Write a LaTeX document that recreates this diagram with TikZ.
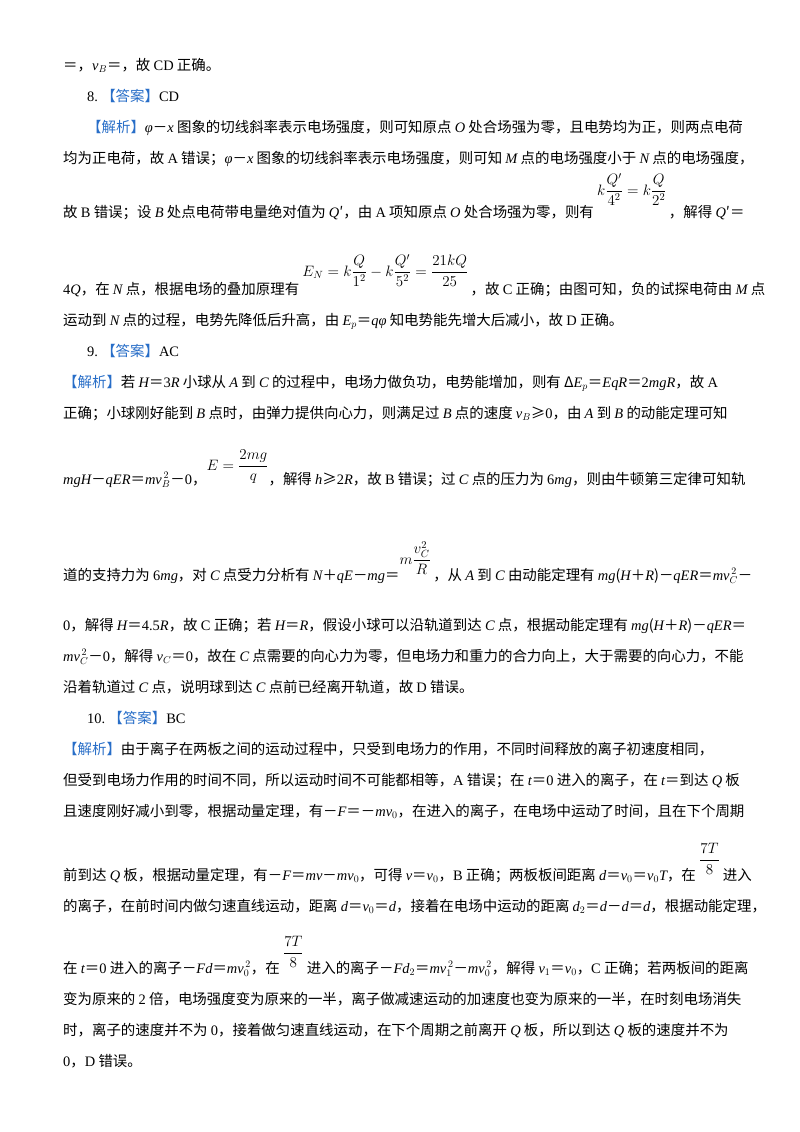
\documentclass[tikz,border=0pt]{standalone}
\usepackage{amsmath}
\usepackage{graphicx}
\usepackage{fontspec}
\setmainfont{Noto Sans CJK SC}
\newfontfamily\lat{Liberation Serif}
\newcommand\I[1]{{\lat\itshape #1}}
\newcommand\R[1]{{\lat #1}}
\newcommand\Fr[2]{\raisebox{#1}{\scalebox{1.05}{$\displaystyle #2$}}}
\definecolor{tagblue}{RGB}{40,110,200}
\newcommand\Tag[1]{{\color{tagblue}【#1】}}
\begin{document}
\begin{tikzpicture}[x=1bp,y=-1bp,
  ln/.style={anchor=base west,inner sep=0pt,font=\fontsize{14.5}{16}\selectfont}]
\useasboundingbox[fill=white] (0,0) rectangle (800,1132);
\node[ln] (l1) at (63,70) {＝，\I{v}$_{\R{B}}$＝，故 \R{CD} 正确。};
\node[ln] (l2) at (87,101) {\R{8.}\ \Tag{答案}\R{CD}};
\node[ln] (l3) at (87,132) {\Tag{解析}\I{φ}－\I{x} 图象的切线斜率表示电场强度，则可知原点 \I{O} 处合场强为零，且电势均为正，则两点电荷};
\node[ln] (l4) at (63,163) {均为正电荷，故 \R{A} 错误；\I{φ}－\I{x} 图象的切线斜率表示电场强度，则可知 \I{M} 点的电场强度小于 \I{N} 点的电场强度，};
\node[ln] (l5) at (63,217) {故 \R{B} 错误；设 \I{B} 处点电荷带电量绝对值为 \I{Q}′，由 \R{A} 项知原点 \I{O} 处合场强为零，则有 \Fr{22bp}{k\frac{Q'}{4^2}=k\frac{Q}{2^2}}\,，解得 \I{Q}′＝};
\node[ln] (l6) at (63,294) {\R{4}\I{Q}，在 \I{N} 点，根据电场的叠加原理有 \Fr{18bp}{E_N=k\frac{Q}{1^2}-k\frac{Q'}{5^2}=\frac{21kQ}{25}}\,，故 \R{C} 正确；由图可知，负的试探电荷由 \I{M} 点};
\node[ln] (l7) at (63,325) {运动到 \I{N} 点的过程，电势先降低后升高，由 \I{E}$_{\R{p}}$＝\I{qφ} 知电势能先增大后减小，故 \R{D} 正确。};
\node[ln] (l8) at (87,356) {\R{9.}\ \Tag{答案}\R{AC}};
\node[ln] (l9) at (63,387) {\Tag{解析}若 \I{H}＝\R{3}\I{R} 小球从 \I{A} 到 \I{C} 的过程中，电场力做负功，电势能增加，则有 Δ\I{E}$_{\R{p}}$＝\I{EqR}＝\R{2}\I{mgR}，故 \R{A}};
\node[ln] (l10) at (63,418) {正确；小球刚好能到 \I{B} 点时，由弹力提供向心力，则满足过 \I{B} 点的速度 \I{v}$_{B}$≥\R{0}，由 \I{A} 到 \I{B} 的动能定理可知};
\node[ln] (l11) at (63,484) {\I{mgH}－\I{qER}＝\I{mv}$_{B}^{\,2}$－\R{0}，\Fr{14bp}{E=\frac{2mg}{q}}，解得 \I{h}≥\R{2}\I{R}，故 \R{B} 错误；过 \I{C} 点的压力为 \R{6}\I{mg}，则由牛顿第三定律可知轨};
\node[ln] (l12) at (63,580) {道的支持力为 \R{6}\I{mg}，对 \I{C} 点受力分析有 \I{N}＋\I{qE}－\I{mg}＝\Fr{16bp}{m\frac{v_C^2}{R}}\,，从 \I{A} 到 \I{C} 由动能定理有 \I{mg}(\I{H}＋\I{R})－\I{qER}＝\I{mv}$_{C}^{\,2}$－};
\node[ln] (l13) at (63,630) {\R{0}，解得 \I{H}＝\R{4.5}\I{R}，故 \R{C} 正确；若 \I{H}＝\I{R}，假设小球可以沿轨道到达 \I{C} 点，根据动能定理有 \I{mg}(\I{H}＋\I{R})－\I{qER}＝};
\node[ln] (l14) at (63,661) {\I{mv}$_{C}^{\,2}$－\R{0}，解得 \I{v}$_{C}$＝\R{0}，故在 \I{C} 点需要的向心力为零，但电场力和重力的合力向上，大于需要的向心力，不能};
\node[ln] (l15) at (63,692) {沿着轨道过 \I{C} 点，说明球到达 \I{C} 点前已经离开轨道，故 \R{D} 错误。};
\node[ln] (l16) at (87,723) {\R{10.}\ \Tag{答案}\R{BC}};
\node[ln] (l17) at (63,754) {\Tag{解析}由于离子在两板之间的运动过程中，只受到电场力的作用，不同时间释放的离子初速度相同，};
\node[ln] (l18) at (63,785) {但受到电场力作用的时间不同，所以运动时间不可能都相等，\R{A} 错误；在 \I{t}＝\R{0} 进入的离子，在 \I{t}＝到达 \I{Q} 板};
\node[ln] (l19) at (63,816) {且速度刚好减小到零，根据动量定理，有－\I{F}＝－\I{mv}$_{0}$，在进入的离子，在电场中运动了时间，且在下个周期};
\node[ln] (l20) at (63,880) {前到达 \I{Q} 板，根据动量定理，有－\I{F}＝\I{mv}－\I{mv}$_{0}$，可得 \I{v}＝\I{v}$_{0}$，\R{B} 正确；两板板间距离 \I{d}＝\I{v}$_{0}$＝\I{v}$_{0}$\I{T}，在 \Fr{16bp}{\frac{7T}{8}} 进入};
\node[ln] (l21) at (63,911) {的离子，在前时间内做匀速直线运动，距离 \I{d}＝\I{v}$_{0}$＝\I{d}，接着在电场中运动的距离 \I{d}$_{2}$＝\I{d}－\I{d}＝\I{d}，根据动能定理，};
\node[ln] (l22) at (63,973) {在 \I{t}＝\R{0} 进入的离子－\I{Fd}＝\I{mv}$_{0}^{\,2}$，在 \Fr{16bp}{\frac{7T}{8}} 进入的离子－\I{Fd}$_{2}$＝\I{mv}$_{1}^{\,2}$－\I{mv}$_{0}^{\,2}$，解得 \I{v}$_{1}$＝\I{v}$_{0}$，\R{C} 正确；若两板间的距离};
\node[ln] (l23) at (63,1004) {变为原来的 \R{2} 倍，电场强度变为原来的一半，离子做减速运动的加速度也变为原来的一半，在时刻电场消失};
\node[ln] (l24) at (63,1035) {时，离子的速度并不为 \R{0}，接着做匀速直线运动，在下个周期之前离开 \I{Q} 板，所以到达 \I{Q} 板的速度并不为};
\node[ln] (l25) at (63,1066) {\R{0}，\R{D} 错误。};
\end{tikzpicture}
\end{document}
